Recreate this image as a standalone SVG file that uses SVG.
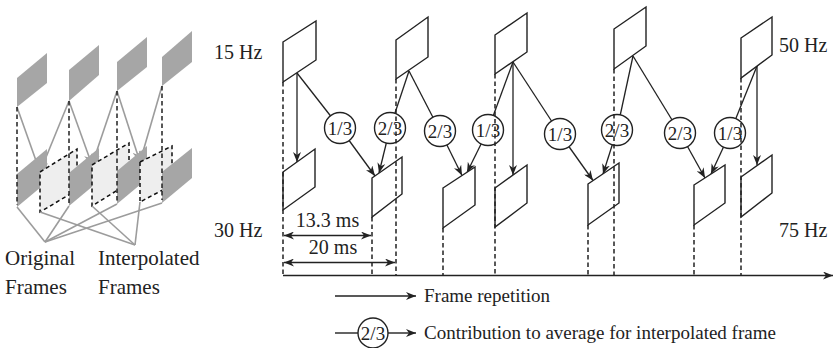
<svg xmlns="http://www.w3.org/2000/svg" width="835" height="348" viewBox="0 0 835 348">
<style>
  .t { font-family: "Liberation Serif", "Times New Roman", serif; fill: #222; }
  .frame { fill: #fff; stroke: #222; stroke-width: 1.4; stroke-linejoin: miter; }
  .ln { stroke: #222; stroke-width: 1.3; fill: none; }
  .arr { stroke: #222; stroke-width: 1.3; fill: none; marker-end: url(#ah); }
  .dash { stroke: #222; stroke-width: 1.5; stroke-dasharray: 4.5 3; fill: none; }
  .wt { fill: #fff; stroke: #222; stroke-width: 1.4; }
  .gfr { fill: #a6a6a6; stroke: none; }
  .ifr { fill: #eeeeee; stroke: #111; stroke-width: 1.5; stroke-dasharray: 4 3; }
  .gln { stroke: #9c9c9c; stroke-width: 1.6; fill: none; }
  .garr { stroke: #9c9c9c; stroke-width: 1.6; fill: none; marker-end: url(#gah); }
</style>
<defs>
  <marker id="ah" viewBox="0 0 10 8" refX="10" refY="4" markerWidth="10" markerHeight="8" markerUnits="userSpaceOnUse" orient="auto-start-reverse">
    <path d="M0,0 L10,4 L0,8 L3,4 Z" fill="#222"/>
  </marker>
  <marker id="gah" viewBox="0 0 10 8" refX="10" refY="4" markerWidth="11" markerHeight="9" markerUnits="userSpaceOnUse" orient="auto">
    <path d="M0,0 L10,4 L0,8 L3,4 Z" fill="#9c9c9c"/>
  </marker>
</defs>

<!-- Left illustration -->
<g id="left-illustration">
  <g id="orig-top">
    <polygon class="gfr" points="17,78 47,53 47,83 17,107"/>
    <polygon class="gfr" points="69,70 99,45 99,75 69,101"/>
    <polygon class="gfr" points="117,62 147,37 147,67 117,91"/>
    <polygon class="gfr" points="162,57 192,31 192,62 162,86"/>
  </g>
  <g id="left-arrows">
    <line class="garr" x1="17" y1="107" x2="40" y2="172"/>
    <line class="garr" x1="69" y1="101" x2="40" y2="172"/>
    <line class="garr" x1="69" y1="101" x2="92" y2="165"/>
    <line class="garr" x1="117" y1="91" x2="92" y2="165"/>
    <line class="garr" x1="117" y1="91" x2="140" y2="162"/>
    <line class="garr" x1="162" y1="86" x2="140" y2="162"/>
  </g>
  <g id="left-bottom">
    <polygon class="gfr" points="17,174 47,149 47,182 17,207"/>
    <polygon class="ifr" points="40,172 77,149 77,190 40,212"/>
    <polygon class="gfr" points="69,173 99,148 99,181 69,206"/>
    <polygon class="ifr" points="92,165 129,143 129,183 92,206"/>
    <polygon class="gfr" points="117,171 147,146 147,179 117,204"/>
    <polygon class="ifr" points="140,162 172,146 172,185 140,202"/>
    <polygon class="gfr" points="162,172 192,148 192,178 162,203"/>
  </g>
  <g id="left-dashes">
    <line class="dash" x1="17" y1="107" x2="17" y2="205"/>
    <line class="dash" x1="69" y1="101" x2="69" y2="204"/>
    <line class="dash" x1="117" y1="91" x2="117" y2="202"/>
    <line class="dash" x1="162" y1="86" x2="162" y2="200"/>
  </g>
  <g id="label-lines">
    <line class="gln" x1="45" y1="242" x2="17" y2="207"/>
    <line class="gln" x1="45" y1="242" x2="69" y2="206"/>
    <line class="gln" x1="45" y1="242" x2="117" y2="204"/>
    <line class="gln" x1="45" y1="242" x2="162" y2="203"/>
    <line class="gln" x1="135" y1="245" x2="40" y2="212"/>
    <line class="gln" x1="135" y1="245" x2="92" y2="206"/>
    <line class="gln" x1="135" y1="245" x2="140" y2="202"/>
  </g>
  <text class="t" x="5" y="265" font-size="21">Original</text>
  <text class="t" x="5" y="294" font-size="21">Frames</text>
  <text class="t" x="98" y="265" font-size="21">Interpolated</text>
  <text class="t" x="98" y="294" font-size="21">Frames</text>
</g>

<!-- Rate labels -->
<text class="t" x="214" y="59" font-size="20">15 Hz</text>
<text class="t" x="214" y="237" font-size="20">30 Hz</text>
<text class="t" x="779" y="52" font-size="20">50 Hz</text>
<text class="t" x="779" y="237" font-size="20">75 Hz</text>

<!-- Connectors -->
<g id="connectors">
  <line class="arr" x1="297" y1="73" x2="297" y2="162"/>
  <line class="ln" x1="297" y1="73" x2="340" y2="128"/>
  <line class="arr" x1="340" y1="128" x2="375" y2="176"/>

  <line class="ln" x1="409" y1="71" x2="390" y2="128"/>
  <line class="ln" x1="409" y1="71" x2="440" y2="131"/>
  <line class="arr" x1="390" y1="128" x2="379" y2="173"/>
  <line class="arr" x1="440" y1="131" x2="462" y2="175.5"/>

  <line class="ln" x1="513" y1="62" x2="488" y2="130"/>
  <line class="arr" x1="513" y1="62" x2="513" y2="175"/>
  <line class="ln" x1="513" y1="62" x2="560" y2="134"/>
  <line class="arr" x1="488" y1="130" x2="467" y2="172.5"/>
  <line class="arr" x1="560" y1="134" x2="593" y2="180.5"/>

  <line class="ln" x1="633" y1="56" x2="617" y2="130"/>
  <line class="ln" x1="633" y1="56" x2="680" y2="133"/>
  <line class="arr" x1="617" y1="130" x2="603" y2="174"/>
  <line class="arr" x1="680" y1="133" x2="705" y2="178"/>

  <line class="ln" x1="757" y1="66" x2="730" y2="133"/>
  <line class="arr" x1="757" y1="66" x2="757" y2="165"/>
  <line class="arr" x1="730" y1="133" x2="711" y2="174"/>
</g>

<!-- Frames (top row) -->
<g id="top-1"><polygon class="frame" points="283,42 316,21 316,60 283,82"/></g>
<g id="top-2"><polygon class="frame" points="396,40 428,17 428,57 396,79"/></g>
<g id="top-3"><polygon class="frame" points="495,35 527,13 527,52 495,74"/></g>
<g id="top-4"><polygon class="frame" points="614,29 646,7 646,46 614,69"/></g>
<g id="top-5"><polygon class="frame" points="741,38 772,17 772,55 741,78"/></g>

<!-- Frames (bottom row) -->
<g id="bot-1"><polygon class="frame" points="283,172 315,149 315,187 283,210"/></g>
<g id="bot-2"><polygon class="frame" points="372,178 402,157 402,194 372,217"/></g>
<g id="bot-3"><polygon class="frame" points="443,188 475,167 475,205 443,228"/></g>
<g id="bot-4"><polygon class="frame" points="495,188 527,165 527,203 495,227"/></g>
<g id="bot-5"><polygon class="frame" points="588,184 619,163 619,203 588,225"/></g>
<g id="bot-6"><polygon class="frame" points="694,185 725,165 725,203 694,225"/></g>
<g id="bot-7"><polygon class="frame" points="741,177 772,155 772,193 741,217"/></g>

<!-- Weights -->
<g id="weights">
  <g id="w1"><circle class="wt" cx="340" cy="128" r="15.5"/><text class="t" x="340" y="135" font-size="19" text-anchor="middle">1/3</text></g>
  <g id="w2"><circle class="wt" cx="390" cy="128" r="15.5"/><text class="t" x="390" y="135" font-size="19" text-anchor="middle">2/3</text></g>
  <g id="w3"><circle class="wt" cx="440" cy="131" r="15.5"/><text class="t" x="440" y="138" font-size="19" text-anchor="middle">2/3</text></g>
  <g id="w4"><circle class="wt" cx="488" cy="130" r="15.5"/><text class="t" x="488" y="137" font-size="19" text-anchor="middle">1/3</text></g>
  <g id="w5"><circle class="wt" cx="560" cy="134" r="15.5"/><text class="t" x="560" y="141" font-size="19" text-anchor="middle">1/3</text></g>
  <g id="w6"><circle class="wt" cx="617" cy="130" r="15.5"/><text class="t" x="617" y="137" font-size="19" text-anchor="middle">2/3</text></g>
  <g id="w7"><circle class="wt" cx="680" cy="133" r="15.5"/><text class="t" x="680" y="140" font-size="19" text-anchor="middle">2/3</text></g>
  <g id="w8"><circle class="wt" cx="730" cy="133" r="15.5"/><text class="t" x="730" y="140" font-size="19" text-anchor="middle">1/3</text></g>
</g>

<!-- Time guides -->
<g id="guides">
  <line class="dash" x1="283" y1="82" x2="283" y2="275"/>
  <line class="dash" x1="372" y1="217" x2="372" y2="275"/>
  <line class="dash" x1="396" y1="79" x2="396" y2="275"/>
  <line class="dash" x1="443" y1="228" x2="443" y2="275"/>
  <line class="dash" x1="495" y1="74" x2="495" y2="275"/>
  <line class="dash" x1="588" y1="225" x2="588" y2="275"/>
  <line class="dash" x1="614" y1="69" x2="614" y2="275"/>
  <line class="dash" x1="694" y1="225" x2="694" y2="275"/>
  <line class="dash" x1="741" y1="78" x2="741" y2="275"/>
</g>

<!-- Axis and dimensions -->
<g id="axis">
  <line x1="283" y1="275.5" x2="833" y2="275.5" stroke="#222" stroke-width="1.5" marker-end="url(#ah)"/>
  <line x1="284" y1="235.5" x2="371" y2="235.5" stroke="#222" stroke-width="1.4" marker-start="url(#ah)" marker-end="url(#ah)"/>
  <line x1="284" y1="262.5" x2="395" y2="262.5" stroke="#222" stroke-width="1.4" marker-start="url(#ah)" marker-end="url(#ah)"/>
  <text class="t" x="327.5" y="227" font-size="20" text-anchor="middle">13.3 ms</text>
  <text class="t" x="333" y="254" font-size="20" text-anchor="middle">20 ms</text>
</g>

<!-- Legend -->
<g id="legend">
  <line x1="335" y1="296" x2="416" y2="296" stroke="#222" stroke-width="1.4" marker-end="url(#ah)"/>
  <text class="t" x="424" y="302" font-size="19">Frame repetition</text>
  <line x1="335" y1="333" x2="358" y2="333" stroke="#222" stroke-width="1.4"/>
  <line x1="388" y1="333" x2="416" y2="333" stroke="#222" stroke-width="1.4" marker-end="url(#ah)"/>
  <circle class="wt" cx="373" cy="333" r="15"/>
  <text class="t" x="373" y="340" font-size="19" text-anchor="middle">2/3</text>
  <text class="t" x="424" y="339" font-size="19">Contribution to average for interpolated frame</text>
</g>
</svg>
